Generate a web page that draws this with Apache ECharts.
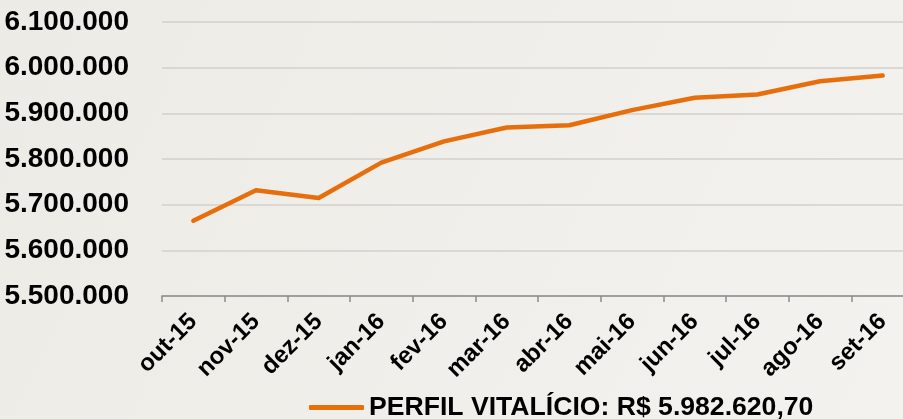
<!DOCTYPE html>
<html>
<head>
<meta charset="utf-8">
<script src="https://cdn.jsdelivr.net/npm/echarts@6/dist/echarts.min.js"></script>
<style>
html,body{margin:0;padding:0;}
#chart{width:903px;height:419px;}
</style>
</head>
<body>
<div id="chart"></div>
<script>
const categories = ['out-15','nov-15','dez-15','jan-16','fev-16','mar-16','abr-16','mai-16','jun-16','jul-16','ago-16','set-16'];
const perfilVitalicio = [5665000, 5731500, 5714700, 5792000, 5838700, 5869000, 5873900, 5907000, 5934000, 5941300, 5970200, 5982620.70];
const seriesName = 'PERFIL VITALÍCIO: R$ 5.982.620,70';
const yMin = 5500000, yMax = 6100000, yStep = 100000;

const FONT = "'Liberation Sans', Arial, sans-serif";
function fmt(v){ return String(Math.round(v)).replace(/\B(?=(\d{3})+(?!\d))/g, '.'); }

const chart = echarts.init(document.getElementById('chart'), null, {renderer:'canvas'});
chart.setOption({
  animation: false,
  backgroundColor: {
    type: 'linear', x: 0, y: 0, x2: 1, y2: 1,
    colorStops: [{offset:0, color:'#ECEBE6'},{offset:1, color:'#F3F2EE'}]
  },
  grid: { left: 162, top: 22, width: 752, height: 274, containLabel: false, outerBoundsMode: 'none' },
  legend: {
    left: 309, top: 394, padding: 0,
    icon: 'roundRect', itemWidth: 55, itemHeight: 5,
    textStyle: { fontFamily: FONT, fontSize: 26.6, fontWeight: 'bold', color: '#000' },
    data: [seriesName]
  },
  xAxis: {
    type: 'category', data: categories, boundaryGap: true,
    axisLine: { lineStyle: { color: '#8C8C8C', width: 1.5 } },
    axisTick: { show: true, length: 6, lineStyle: { color: '#8C8C8C', width: 1.5 } },
    axisLabel: { rotate: 45, margin: 22, interval: 0, fontFamily: FONT, fontSize: 24, fontWeight: 'bold', color: '#000' },
    splitLine: { show: false }
  },
  yAxis: {
    type: 'value', min: yMin, max: yMax, interval: yStep,
    axisLine: { show: false }, axisTick: { show: false },
    axisLabel: { margin: 33, formatter: fmt, fontFamily: FONT, fontSize: 28, fontWeight: 'bold', color: '#000' },
    splitLine: { lineStyle: { color: '#D2D0CC', width: 1.5 } }
  },
  series: [{
    name: seriesName, type: 'line', data: perfilVitalicio,
    symbol: 'none', showSymbol: false,
    lineStyle: { color: '#E66F0C', width: 4.5, cap: 'round', join: 'round' },
    itemStyle: { color: '#E66F0C' }
  }]
});
</script>
</body>
</html>
